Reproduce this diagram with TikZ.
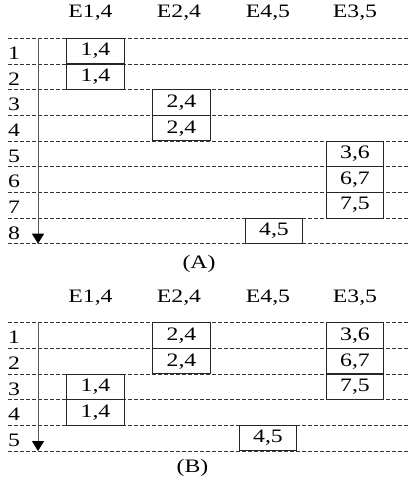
\documentclass[tikz,border=0pt]{standalone}
\usepackage{fontspec}
\setmainfont[FakeStretch=1.25]{Liberation Serif}
\usetikzlibrary{arrows.meta}
\begin{document}
\begin{tikzpicture}[x=1pt,y=-1pt,
  txt/.style={font=\fontsize{19}{22}\selectfont, inner sep=0pt},
  cell/.style={txt, draw=black!85, line width=1pt, minimum width=57.5pt, minimum height=25.6pt, outer sep=0pt},
  rowlbl/.style={txt, anchor=base west},
  grid/.style={draw=black!80, line width=0.9pt, dash pattern=on 4pt off 2pt},
  axis/.style={draw=black!65, line width=1pt, -{Triangle[width=12pt,length=10pt,color=black,fill=black]}}]
\useasboundingbox (0,0) rectangle (408,481);
% ---------- Part A ----------
\foreach \i in {0,...,8} {\draw[grid] (8,38.3+\i*25.68) -- (408,38.3+\i*25.68);}
\node[txt] (hA1) at (90.5,12.3) {E1,4};
\node[txt] (hA2) at (179,12.3) {E2,4};
\node[txt] (hA3) at (268,12.3) {E4,5};
\node[txt] (hA4) at (355,12.3) {E3,5};
\node[rowlbl] (rA1) at (8,59.5) {1};
\node[rowlbl] (rA2) at (8,85.2) {2};
\node[rowlbl] (rA3) at (8,110.9) {3};
\node[rowlbl] (rA4) at (8,136.6) {4};
\node[rowlbl] (rA5) at (8,162.2) {5};
\node[rowlbl] (rA6) at (8,187.9) {6};
\node[rowlbl] (rA7) at (8,213.6) {7};
\node[rowlbl] (rA8) at (8,239.2) {8};
\coordinate (topA) at (38,38.3);
\coordinate (botA) at (38,243.7);
\draw[axis] (topA) -- (botA);
\node[cell] (a11) at (95.5,51.14) {1,4};
\node[cell] (a12) at (95.5,76.82) {1,4};
\node[cell] (a23) at (181.5,102.5) {2,4};
\node[cell] (a24) at (181.5,128.18) {2,4};
\node[cell] (a35) at (355,153.86) {3,6};
\node[cell] (a36) at (355,179.54) {6,7};
\node[cell] (a37) at (355,205.22) {7,5};
\node[cell] (a48) at (274,230.9) {4,5};
\node[txt] (capA) at (199,264) {(A)};
% ---------- Part B ----------
\foreach \i in {0,...,5} {\draw[grid] (8,322.7+\i*25.66) -- (408,322.7+\i*25.66);}
\node[txt] (hB1) at (90.5,297.5) {E1,4};
\node[txt] (hB2) at (179,297.5) {E2,4};
\node[txt] (hB3) at (268,297.5) {E4,5};
\node[txt] (hB4) at (355,297.5) {E3,5};
\node[rowlbl] (rB1) at (8,343.9) {1};
\node[rowlbl] (rB2) at (8,369.5) {2};
\node[rowlbl] (rB3) at (8,395.2) {3};
\node[rowlbl] (rB4) at (8,420.8) {4};
\node[rowlbl] (rB5) at (8,446.5) {5};
\coordinate (topB) at (38,322.7);
\coordinate (botB) at (38,451);
\draw[axis] (topB) -- (botB);
\node[cell] (b21) at (181.5,335.53) {2,4};
\node[cell] (b22) at (181.5,361.19) {2,4};
\node[cell] (b31) at (355,335.53) {3,6};
\node[cell] (b32) at (355,361.19) {6,7};
\node[cell] (b33) at (355,386.85) {7,5};
\node[cell] (b13) at (95.5,386.85) {1,4};
\node[cell] (b14) at (95.5,412.51) {1,4};
\node[cell] (b45) at (268,438.17) {4,5};
\node[txt] (capB) at (192.5,468) {(B)};
\end{tikzpicture}
\end{document}
